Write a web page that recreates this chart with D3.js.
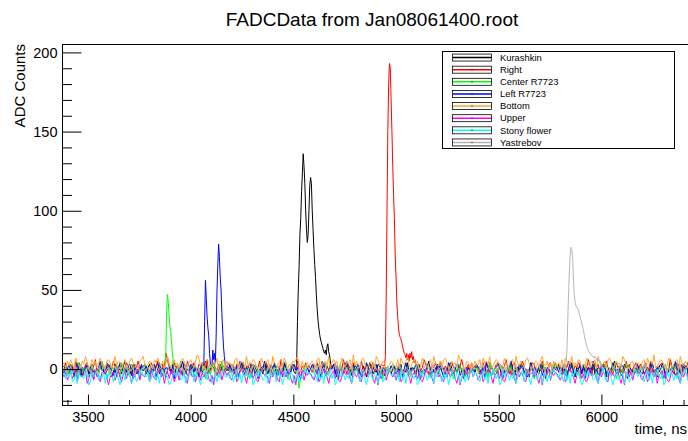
<!DOCTYPE html>
<html>
<head>
<meta charset="utf-8">
<script src="https://cdn.jsdelivr.net/npm/d3@7"></script>
<style>
  body { margin: 0; background: #fff; }
  svg { display: block; font-family: "Liberation Sans", Arial, Helvetica, sans-serif; }
</style>
</head>
<body>
<script>
// channel names, in drawing order
var seriesNames = ["Kurashkin", "Right", "Center R7723", "Left R7723", "Bottom", "Upper", "Stony flower", "Yastrebov"];
var seriesColors = ["#000000", "#ff0000", "#00ff00", "#0000ff", "#ffa533", "#ff00ff", "#00ffff", "#bcb5ae"];

var xTicksMajor = [3500, 4000, 4500, 5000, 5500, 6000];
var yTicksMajor = [0, 50, 100, 150, 200];

// baseline samples: one letter per sample, 'm' = 0, 'n' = +1, 'l' = -1 ...
var noiseStart = 3376, noiseStep = 8;
var noiseKurashkin = [
  "kmpljnoimkqlhmonjlpkmimnqkjlomhkpnlmjorkmlinpjmkol",
  "mjnplkmoqjlnkhmplnjmokliqnmkjpolmhnkmrljmonkilpmjn",
  "lnkmpjiomlqknjmhpolkmnjroklmiqnljmkpmhlnokjqmlinko",
  "pkmljnomikrlmjnpkhmoljqnkmiplnmjkolhmqnjlkpomjinlm",
  "jmoknlpimkqjnlmhopkljmnriklmpjnomkhlqmjnkpolmijnkm",
  "nkpmjlohmkqnlijmponklmjrkimnlpojkmhqlnmkjopinlmkjn",
  "mlpkjnoimlqkhnmpjolknmiqjlnmkpohmljnrkmlijpnokmljn",
  "kopmjlniqmklhnpomjklrnmijpklomnhqjmlnkopimjlkqnmho"
].join("");
var noiseRight = [
  "noqlmpnkrolmnjpqmnlosknmpolqnjmrnlopmknqolmpjnrmlo",
  "pmnkqolnrmjpnwslmkqnolpmnjrolmqnkpomlnsjmoqnlpkmon",
  "lqnmokpnrlmjonqmplknrmolqnjpmknolsmqnlkopmnrjlomqn",
  "omkpnqlmrnjolpmnqklomsnjpmlqonkmrlnpjmoqknlmpornjm",
  "nplqmkonrmljpnqmoklnspmjlonqmkrnlomjpqnlkmosnjmplq",
  "mopnklqmrnjolmpqnklosmnjpqlmkornmljnqpmkolrnmjpqln",
  "qmnolkpnrmjlonqpkmlnsojmqnplkmornlmjpqnokmlrnpjmoq",
  "lnpmoqknrljmnopqmklnsmjoqnlpkmornmljpqnokmlrnpjmol"
].join("");
var noiseCenter = [
  "mkoilnpjmgqlknmohjplmkinrmlgjpnmkolhqmjnilpokmjgnl",
  "pkmhlonjmqkilmpgnolkjmrniklmopjhmnlqkgmojnplikmrjl",
  "nmkpjlhomqnkilgpmnojlkmrhnlmkpoijmnlqgkmopnjahmkpn",
  "lmojknphmlqikmnojlgpmknrlimjopnkhmlqnjkmpolimgnkjm",
  "opkmlhnjmqlikmnpogjlmknrhmljopnkimlqnjgmkpolnhmjkl",
  "mnpjkloimgqnlkmhpojlnmkrilmjpnokhmlqngjkmopnlimjkp",
  "nmolkjphmqnlikmgnopjlkmrnhlmjopkinmlqgjnmkoplhmjnk",
  "ljnmpokhmqlinkmgopjlmnkrhlmjponkimlqgjnmkoplhmjnkl"
].join("");
var noiseLeft = [
  "ljnmpkohmqlinkmpjolgmknrlmjopnkimhlqnjmkoplgnmjkpl",
  "mokjnlphmqkilnmojpglkmnrmlijpoknmhlqnmjkpoligmnkjo",
  "nlpkmjohlqmiknmpojlgknmrljmonpkimlhqnjmkoplnigmkjn",
  "kmpnljohmqiklnmpjogmlknrmijlonpkhmlqnjkmopilgnmkjl",
  "omnjkplhmqlkinmopjglmknrlimjpnokhmlqnjkmpoilgmnjkm",
  "lkpnmjohqmlikmnpojglkmnrmlijpnokmhlqnjmkopilgnmkjn",
  "mnkolpjhmqnlikmojpglnkmrlmjiponkhlmqnjkmpolignmkjl",
  "pmkjnolhmqlinkmpogjlmknrlmjiponkhlmqnjkmpolignmkjl"
].join("");
var noiseBottom = [
  "pqnrospmtqonrpuqmosprnqtopmrsqnpuorqmpsnortqpmnrsu",
  "qoprnmsqtpornqupmrsoqnptrmoqspnrvtoqmpsrnoqptmrqsn",
  "rpqnostmprqnuoqpsrmnotqprsnmuqoprsntqmporqsupnrmoq",
  "oqrpnstmqprounqsprmotqnrpsmvorpnstqmoprqnusporqmn",
  "prqonsmtqpruonqsprmotqrnpsmuqoprnstqmorpqnvspomrqn",
  "qnropsmtqrpunoqsrpmotqnprsmuqorpnstqmoprqnsupormqn",
  "rpoqnsmtrqpunqosrmpotqnrpsmuqoprnstqmorpqnuspomqrn",
  "oqpnrsmtqrpvnoqsrpmotqnprsmuqorpnstqmoprqnsupormqn"
].join("");
var noiseUpper = [
  "jhkfilgjmekihjldgkjfmhiekjlgchjkfimhejkglidjhkmfji",
  "hkjeligfkmhjdikgljehkfmijgdlkhjeimfkhjlgeicjkhmfjl",
  "ikhfjlegkmjhdilkgjfehmkijgdlhkjfemikhjlgdicjkhmfji",
  "kjhfilegjmkhdijlgkfehmjikgdljhkfemijhklgdicjhkmfjl",
  "jhkfilegkmjhdiklgjfehmkijgdlkhjfemikhjlgdichjkmfjl",
  "hkjfilegjmkhdijlgkfehmjikgdlhkjfemijkhlgdicjhkmfji",
  "kjhfilegkmjhdiklgjfehmkijgdlhkjfemijhklgdicjkhmfjl",
  "jkhfilegmjhkdijlgkfehmjikgdlhkjfemijkhlgdicjhkmfji"
].join("");
var noiseStony = [
  "ikgjhlefjdkhigmjcekhjlfigkdjhmiejkgchlfjkidhjegkmi",
  "jhkeglifjdkmhjgceikhljfgkdihjmekjgchilfkjdhiejgkmh",
  "hjgkeilfjdkhmigjcekhlifgjdkhimejkgchlifkjdhjeigkmj",
  "kighjelfjdkhimgjcekhljfigkdhjmiekjgchlifkjdhjegikm",
  "ijhgkelfjdkmhigjcekhljfigkdjhmiekgjchlifkjdhjeigkm",
  "hkjgeilfjdkhmigjcekhljfigkdhjimekjgchlifkjdhjeigkm",
  "jigkhelfjdkhmijgcekhlijfgkdhjmiekjgchlifkjdhjegikm",
  "hjkgeilfjdkhmigjcekhljfigkdhjmiekjgchlifkjdhjeigkm"
].join("");
var noiseYastrebov = [
  "mlnkmojlnmkpmlinmkolmjnmlpkmnilmokmnljmpkmlnimokln",
  "lmnkopmjlnmkimlpnmkjomlnkmpilmnokmjlnmkopmlinmkjlo",
  "nmlkpmjonlmkimnlpmkjomnlkmpilnmokmjlnmkpomlinkmjlo",
  "mlnkompjlnmkimlnpmkojmlnkmpilmnokmjnlmkpomlinmkjol",
  "lnmkopmjlnmkimlnpmkjomlnkmpilmnokmjlnmkopmlinmkjlo",
  "mnlkompjlnmkimnlpmkojmnlkmpilmnokmjlnmkpomlinmkjol",
  "nlmkopmjlnmkimlnpmkjomlnkmpilmnokmjlnmkopmlinmkjlo",
  "mlnkpomjlnmkimlnpmkojmlnkmpilmnokmjlnmkpomlinmkjol"
].join("");

// pulses, sampled every 4 ns from their start time
var pulseStep = 4;
var pulseKurashkin = {start: 4516, values: [3, 30, 50, 65, 85, 95, 112, 124, 136, 128, 117, 100, 88, 80, 85, 100, 116, 121, 117, 100, 88, 76, 66, 58, 47, 38, 31, 26, 22, 19, 17, 15, 13, 11, 10, 12, 9, 14, 16, 11, 9, 5, 2]};
var pulseRight = {start: 4944, values: [2, 8, 45, 100, 150, 180, 193, 190, 170, 150, 128, 110, 95, 72, 58, 42, 33, 26, 22, 20, 19, 17, 14, 12, 10, 9, 7, 10, 6, 9, 5, 10, 7, 11, 6, 8, 4, 6, 2]};
var pulseCenter = {start: 3878, values: [3, 30, 47, 44, 36, 28, 25, 18, 12, 6, 2]};
var pulseLeft = {start: 4064, values: [2, 30, 56, 45, 33, 26, 21, 10, 4, 0, 3, 12, 6, 10, 4, 20, 48, 65, 79, 71, 58, 50, 35, 24, 14, 8, 3]};
var pulseYastrebov = {start: 5828, values: [4, 12, 30, 48, 62, 72, 77, 75, 70, 56, 47, 42, 40, 39, 39, 37, 35, 33, 31, 29, 27, 25, 22, 19, 17, 15, 13, 12, 11, 10, 9, 9, 8, 8, 7, 8, 7, 6, 7, 5, 6, 4, 5, 3]};

var noises = [noiseKurashkin, noiseRight, noiseCenter, noiseLeft, noiseBottom, noiseUpper, noiseStony, noiseYastrebov];
var pulses = [pulseKurashkin, pulseRight, pulseCenter, pulseLeft, null, null, null, pulseYastrebov];

var W = 688, H = 441;
var frame = {left: 62.5, top: 44.5, right: 700, bottom: 405.5};

var x = d3.scaleLinear().domain([3376, 6480]).range([frame.left, frame.right]);
var y = d3.scaleLinear().domain([-23, 205]).range([frame.bottom, frame.top]);

var svg = d3.select("body").append("svg")
  .attr("width", W)
  .attr("height", H);

svg.append("defs").append("clipPath").attr("id", "frameClip")
  .append("rect")
  .attr("x", frame.left).attr("y", frame.top)
  .attr("width", frame.right - frame.left).attr("height", frame.bottom - frame.top);

// build the points of one channel: baseline letters, with the pulse samples in place
function channelPoints(noise, pulse) {
  var pts = [];
  var pEnd = pulse ? pulse.start + (pulse.values.length - 1) * pulseStep : 0;
  for (var i = 0; i < noise.length; i++) {
    var t = noiseStart + i * noiseStep;
    if (pulse && t >= pulse.start && t <= pEnd) continue;
    pts.push([t, noise.charCodeAt(i) - 109]);
  }
  if (pulse) {
    pulse.values.forEach(function (v, j) {
      pts.push([pulse.start + j * pulseStep, v]);
    });
  }
  pts.sort(function (a, b) { return a[0] - b[0]; });
  return pts;
}

var line = d3.line()
  .x(function (d) { return x(d[0]); })
  .y(function (d) { return y(d[1]); });

var plot = svg.append("g").attr("clip-path", "url(#frameClip)");
noises.forEach(function (noise, i) {
  plot.append("path")
    .attr("d", line(channelPoints(noise, pulses[i])))
    .attr("fill", "none")
    .attr("stroke", seriesColors[i])
    .attr("stroke-width", 1);
});

// frame
svg.append("rect")
  .attr("x", frame.left).attr("y", frame.top)
  .attr("width", frame.right - frame.left).attr("height", frame.bottom - frame.top)
  .attr("fill", "none")
  .attr("stroke", "#000");

// y axis, ticks pointing into the frame
var yMinor = d3.range(-20, 201, 10).filter(function (v) { return v % 50 !== 0; });
svg.append("g").attr("transform", "translate(" + frame.left + ",0)")
  .call(d3.axisLeft(y).tickValues(yMinor).tickSize(-9.5).tickFormat(""))
  .call(function (g) { g.select(".domain").remove(); });
svg.append("g").attr("transform", "translate(" + frame.left + ",0)")
  .call(d3.axisLeft(y).tickValues(yTicksMajor).tickSize(-19).tickPadding(5))
  .call(function (g) { g.select(".domain").remove(); });

// x axis
var xMinor = d3.range(3400, 6480, 100).filter(function (v) { return v % 500 !== 0; });
svg.append("g").attr("transform", "translate(0," + frame.bottom + ")")
  .call(d3.axisBottom(x).tickValues(xMinor).tickSize(-5.5).tickFormat(""))
  .call(function (g) { g.select(".domain").remove(); });
svg.append("g").attr("transform", "translate(0," + frame.bottom + ")")
  .call(d3.axisBottom(x).tickValues(xTicksMajor).tickSize(-11).tickPadding(6).tickFormat(d3.format("d")))
  .call(function (g) { g.select(".domain").remove(); });

svg.selectAll(".tick line").attr("stroke", "#000");
svg.selectAll(".tick text")
  .attr("fill", "#000")
  .style("font-size", "14.5px")
  .style("font-family", "'Liberation Sans', Arial, sans-serif");

// titles
svg.append("text")
  .attr("x", 372).attr("y", 26)
  .attr("text-anchor", "middle")
  .style("font-size", "19px")
  .text("FADCData from Jan08061400.root");

svg.append("text")
  .attr("transform", "translate(25,44) rotate(-90)")
  .attr("text-anchor", "end")
  .style("font-size", "15px")
  .text("ADC Counts");

svg.append("text")
  .attr("x", 687).attr("y", 434)
  .attr("text-anchor", "end")
  .style("font-size", "15px")
  .text("time, ns");

// legend
var leg = {x: 442.5, y: 51.5, w: 232, h: 97};
var legend = svg.append("g");
legend.append("rect")
  .attr("x", leg.x).attr("y", leg.y)
  .attr("width", leg.w).attr("height", leg.h)
  .attr("fill", "#fff")
  .attr("stroke", "#000");

var rowH = leg.h / seriesNames.length;
var entry = legend.selectAll(".entry")
  .data(seriesNames)
  .enter().append("g")
  .attr("class", "entry")
  .attr("transform", function (d, i) {
    return "translate(0," + (leg.y + rowH * (i + 0.5)) + ")";
  });
entry.append("rect")
  .attr("x", 452.5).attr("y", -3.5)
  .attr("width", 39).attr("height", 7)
  .attr("fill", "#fff")
  .attr("stroke", "#000")
  .attr("stroke-width", 0.8);
entry.append("line")
  .attr("x1", 453).attr("x2", 491)
  .attr("y1", 0).attr("y2", 0)
  .attr("stroke", function (d, i) { return seriesColors[i]; })
  .attr("stroke-width", 1.5);
entry.append("rect")
  .attr("x", 471.5).attr("y", -0.5)
  .attr("width", 1).attr("height", 1)
  .attr("fill", "#000");
entry.append("text")
  .attr("x", 500).attr("y", 0)
  .attr("dy", "0.35em")
  .style("font-size", "9.4px")
  .text(function (d) { return d; });
</script>
</body>
</html>
